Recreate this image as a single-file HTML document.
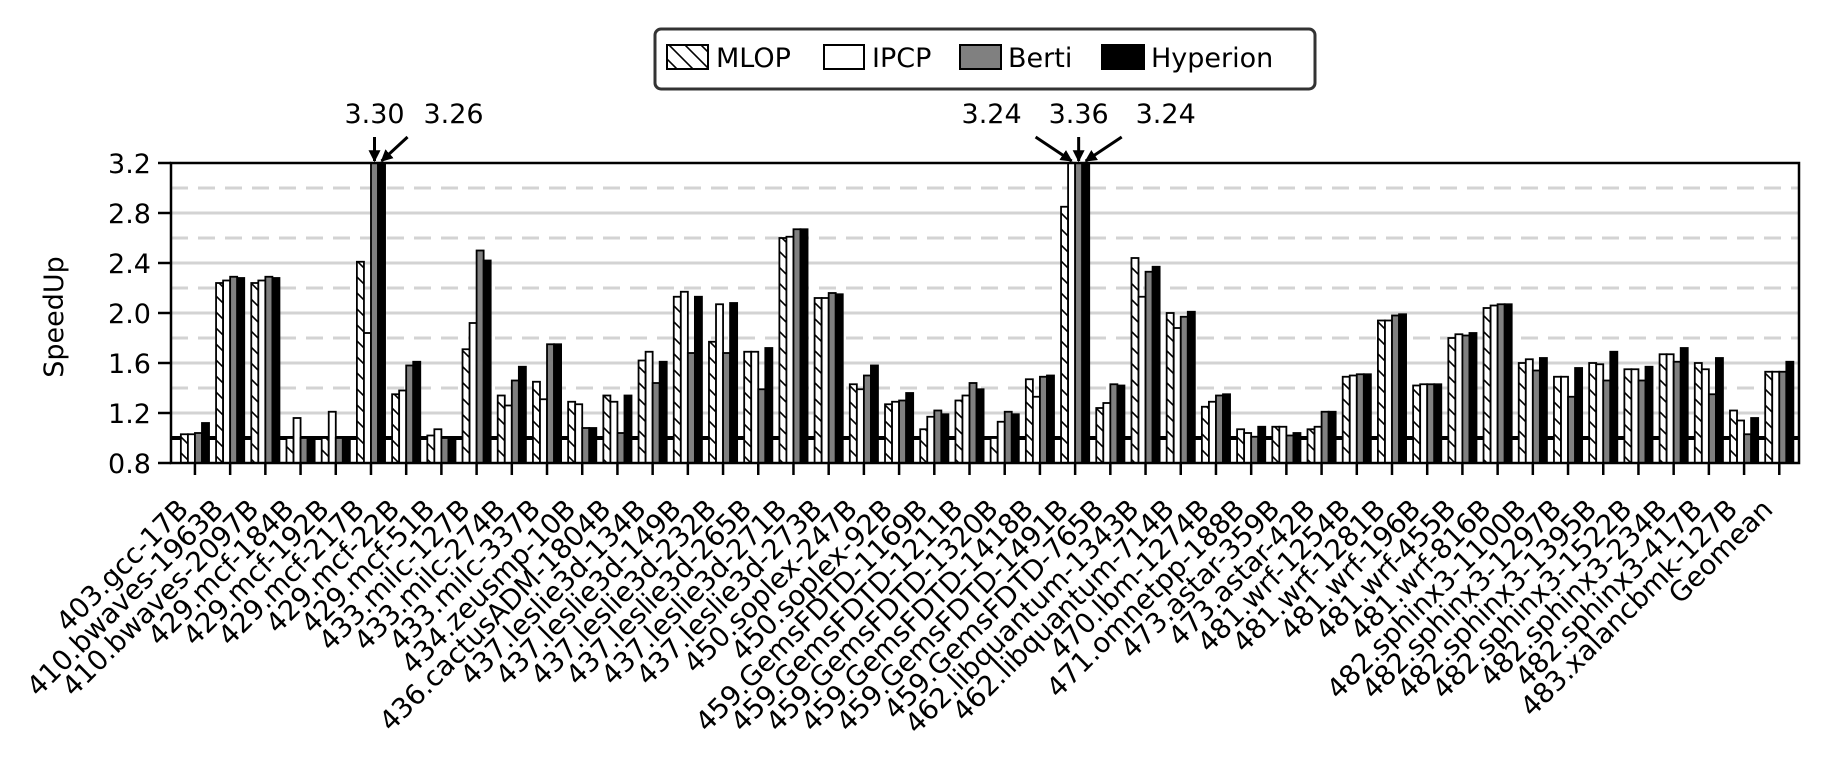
<!DOCTYPE html>
<html><head><meta charset="utf-8"><style>
html,body{margin:0;padding:0;background:#fff}
svg text{font-family:"DejaVu Sans","Liberation Sans",sans-serif;fill:#000}
</style></head><body>
<svg id="chart" width="1828" height="772" viewBox="0 0 1828 772" xmlns="http://www.w3.org/2000/svg">
<defs>
<pattern id="hatch" patternUnits="userSpaceOnUse" width="16" height="16">
<rect width="16" height="16" fill="#fff"/>
<path d="M-4,-4 L20,20 M-4,12 L4,20 M12,-4 L20,4" stroke="#000" stroke-width="1.6"/>
</pattern>
<clipPath id="plotclip"><rect x="171" y="163" width="1628" height="300"/></clipPath>
<marker id="ah" viewBox="0 0 10 10" refX="9" refY="5" markerWidth="4" markerHeight="4" orient="auto"><path d="M0,0 L10,5 L0,10 z" fill="#000"/></marker>
</defs>
<g id="grid"></g>
<g id="bars" clip-path="url(#plotclip)"></g>
<g id="axes"></g>
<g id="xlabels"></g>
<g id="annot"></g>
<g id="legend">
<rect x="655" y="29" width="660" height="60" rx="6" fill="#fff" stroke="#333" stroke-width="3"/>
<g><rect x="667" y="45" width="41" height="24" fill="url(#hatch)" stroke="#000" stroke-width="2"/><text x="716" y="67" font-size="27">MLOP</text></g>
<g><rect x="824" y="45" width="40" height="24" fill="#fff" stroke="#000" stroke-width="2"/><text x="872" y="67" font-size="27">IPCP</text></g>
<g><rect x="960" y="45" width="41" height="24" fill="#808080" stroke="#000" stroke-width="2"/><text x="1008" y="67" font-size="27">Berti</text></g>
<g><rect x="1102" y="45" width="42" height="24" fill="#000" stroke="#000" stroke-width="2"/><text x="1151" y="67" font-size="27">Hyperion</text></g>
</g>
<text font-size="27" transform="translate(63,317) rotate(-90)" text-anchor="middle">SpeedUp</text>
</svg>
<script>
const categories = ["403.gcc-17B","410.bwaves-1963B","410.bwaves-2097B","429.mcf-184B","429.mcf-192B","429.mcf-217B","429.mcf-22B","429.mcf-51B","433.milc-127B","433.milc-274B","433.milc-337B","434.zeusmp-10B","436.cactusADM-1804B","437.leslie3d-134B","437.leslie3d-149B","437.leslie3d-232B","437.leslie3d-265B","437.leslie3d-271B","437.leslie3d-273B","450.soplex-247B","450.soplex-92B","459.GemsFDTD-1169B","459.GemsFDTD-1211B","459.GemsFDTD-1320B","459.GemsFDTD-1418B","459.GemsFDTD-1491B","459.GemsFDTD-765B","462.libquantum-1343B","462.libquantum-714B","470.lbm-1274B","471.omnetpp-188B","473.astar-359B","473.astar-42B","481.wrf-1254B","481.wrf-1281B","481.wrf-196B","481.wrf-455B","481.wrf-816B","482.sphinx3-1100B","482.sphinx3-1297B","482.sphinx3-1395B","482.sphinx3-1522B","482.sphinx3-234B","482.sphinx3-417B","483.xalancbmk-127B","Geomean"];
const mlop =     [1.03,2.24,2.24,1.00,1.00,2.41,1.35,1.02,1.71,1.34,1.45,1.29,1.34,1.62,2.13,1.77,1.69,2.60,2.12,1.43,1.27,1.07,1.30,1.00,1.47,2.85,1.24,2.44,2.00,1.25,1.07,1.09,1.07,1.49,1.94,1.42,1.80,2.04,1.60,1.49,1.60,1.55,1.67,1.60,1.22,1.53];
const ipcp =     [1.03,2.26,2.26,1.16,1.21,1.84,1.38,1.07,1.92,1.26,1.31,1.27,1.29,1.69,2.17,2.07,1.69,2.61,2.12,1.39,1.29,1.17,1.34,1.13,1.33,3.24,1.28,2.13,1.88,1.29,1.04,1.09,1.09,1.50,1.94,1.43,1.83,2.06,1.63,1.49,1.59,1.55,1.67,1.55,1.14,1.53];
const berti =    [1.04,2.29,2.29,1.00,1.00,3.30,1.58,1.00,2.50,1.46,1.75,1.08,1.04,1.44,1.68,1.68,1.39,2.67,2.16,1.50,1.30,1.22,1.44,1.21,1.49,3.36,1.43,2.33,1.97,1.34,1.01,1.02,1.21,1.51,1.98,1.43,1.82,2.07,1.54,1.33,1.46,1.46,1.61,1.35,1.03,1.53];
const hyperion = [1.12,2.28,2.28,1.00,1.00,3.26,1.61,1.00,2.42,1.57,1.75,1.08,1.34,1.61,2.13,2.08,1.72,2.67,2.15,1.58,1.36,1.19,1.39,1.19,1.50,3.24,1.42,2.37,2.01,1.35,1.09,1.04,1.21,1.51,1.99,1.43,1.84,2.07,1.64,1.56,1.69,1.57,1.72,1.64,1.16,1.61];
const yTicks = [0.8,1.2,1.6,2.0,2.4,2.8,3.2];
const yMinor = [1.4,1.8,2.2,2.6,3.0];
const seriesNames = ["mlop","ipcp","berti","hyperion"];

const NS="http://www.w3.org/2000/svg";
const L=171,R=1799,T=163,B=463,YMIN=0.8,YMAX=3.2;
const step=(R-L)/(categories.length+0.24);
function y(v){return B-(v-YMIN)/(YMAX-YMIN)*(B-T);}
function xc(i){return L+(i+0.68)*step;}
function mk(tag,attrs,parent){const e=document.createElementNS(NS,tag);for(const k in attrs)e.setAttribute(k,attrs[k]);parent.appendChild(e);return e;}
const grid=document.getElementById('grid'),bars=document.getElementById('bars'),axes=document.getElementById('axes'),xl=document.getElementById('xlabels'),an=document.getElementById('annot');

yTicks.forEach(v=>{if(v>YMIN&&v<YMAX){const g=mk('line',{x1:L,x2:R,y1:y(v),y2:y(v),stroke:'#d3d3d3','stroke-width':3},grid);

}});
yMinor.forEach(v=>{const g=mk('line',{x1:L,x2:R,y1:y(v),y2:y(v),stroke:'#d3d3d3','stroke-width':3,'stroke-dasharray':'17,10'},grid);

});
const base=mk('line',{x1:L,x2:R,y1:y(1.0),y2:y(1.0),stroke:'#000','stroke-width':4},grid);



const series=[mlop,ipcp,berti,hyperion];
const fills=['url(#hatch)','#fff','#808080','#000'];
const bw=step*0.2;
categories.forEach((c,i)=>{
  series.forEach((s,k)=>{
    const v=s[i];const x=xc(i)+(k-2)*bw;const top=y(v);
    const r=mk('rect',{x:x,y:top,width:bw,height:B-top,fill:fills[k],stroke:'#000','stroke-width':1.8},bars);
    
    
  });
  const t=mk('line',{x1:xc(i),x2:xc(i),y1:B,y2:B+12,stroke:'#000','stroke-width':2.5},axes);
  
  
  const lx=xc(i)-5,ly=B+48;
  const tx=mk('text',{x:lx,y:ly,'font-size':27.5,'text-anchor':'end',transform:'rotate(-45 '+lx+' '+ly+')'},xl);
  tx.textContent=c;
  
  
});
const frame=mk('rect',{x:L,y:T,width:R-L,height:B-T,fill:'none',stroke:'#000','stroke-width':2.5},axes);


yTicks.forEach(v=>{
  const t=mk('line',{x1:L-13,x2:L,y1:y(v),y2:y(v),stroke:'#000','stroke-width':2.5},axes);
  
  
  const tx=mk('text',{x:L-20,y:y(v)+10,'font-size':27,'text-anchor':'end'},axes);
  tx.textContent=v.toFixed(1);
  
  
});
const ann=[];
categories.forEach((c,i)=>series.forEach((s,k)=>{if(s[i]>YMAX)ann.push({i,k,v:s[i]});}));
const groups={};ann.forEach(a=>{(groups[a.i]=groups[a.i]||[]).push(a);});
Object.values(groups).forEach(g=>{
  const n=g.length;
  g.forEach((a,j)=>{
    const bx=xc(a.i)+(a.k-1.5)*bw;
    let tx,sx;
    if(n===2){tx=bx+(j===0?0:72);sx=j===0?bx:bx+26;}
    else{const off=(j-(n-1)/2);tx=bx+off*80;sx=bx+off*36;}
    const ln=mk('line',{x1:sx,y1:137,x2:bx,y2:161,stroke:'#000','stroke-width':3,'marker-end':'url(#ah)'},an);
    
    
    const t=mk('text',{x:tx,y:123,'font-size':27,'text-anchor':'middle'},an);
    t.textContent=a.v.toFixed(2);
    
    
  });
});
</script>
</body></html>
